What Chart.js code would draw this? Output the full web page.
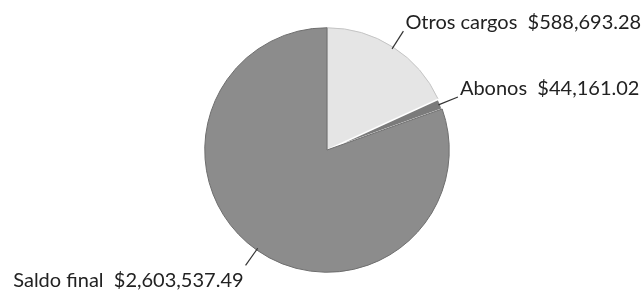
<!DOCTYPE html>
<html>
<head>
<meta charset="utf-8">
<script src="https://cdn.jsdelivr.net/npm/chart.js@4.4.0/dist/chart.umd.min.js"></script>
<style>
  html, body { margin: 0; padding: 0; background: #fff; }
  #wrap { width: 644px; height: 295px; }
</style>
</head>
<body>
<div id="wrap"><canvas id="pie"></canvas></div>
<script>
// slices, clockwise from 12 o'clock
const labels = ['Otros cargos', 'Abonos', 'Saldo final'];
const amounts = [588693.28, 44161.02, 2603537.49];
const amountText = ['$588,693.28', '$44,161.02', '$2,603,537.49'];
const colors = ['#e5e5e5', '#7b7b7b', '#8c8c8c'];

// leader lines + labels outside the slices
const outsideLabels = {
  id: 'outsideLabels',
  afterDatasetsDraw(chart) {
    const ctx = chart.ctx;
    const arcs = chart.getDatasetMeta(0).data;
    ctx.save();
    ctx.font = '20px Lato';
    ctx.fillStyle = '#222';
    ctx.strokeStyle = '#333';
    ctx.lineWidth = 1.2;
    arcs.forEach((arc, i) => {
      const mid = (arc.startAngle + arc.endAngle) / 2;
      const r = arc.outerRadius;
      const sx = arc.x + Math.cos(mid) * (r - 2);
      const sy = arc.y + Math.sin(mid) * (r - 2);
      const ex = arc.x + Math.cos(mid) * (r + 19);
      const ey = arc.y + Math.sin(mid) * (r + 19);
      ctx.beginPath();
      ctx.moveTo(sx, sy);
      ctx.lineTo(ex, ey);
      ctx.stroke();
      const txt = labels[i] + '  ' + amountText[i];
      const right = Math.cos(mid) >= 0;
      ctx.textAlign = right ? 'left' : 'right';
      if (Math.sin(mid) < 0) {
        ctx.textBaseline = 'alphabetic';
        ctx.fillText(txt, ex + (right ? 2 : -2), ey - 2);
      } else {
        ctx.textBaseline = 'top';
        ctx.fillText(txt, ex + (right ? 2 : -2), ey + 5);
      }
    });
    ctx.restore();
  }
};

new Chart(document.getElementById('pie'), {
  type: 'pie',
  data: {
    labels: labels,
    datasets: [{
      data: amounts,
      backgroundColor: colors,
      borderColor: ['#c4c4c4', '#ffffff', '#6e6e6e'],
      borderWidth: [1, 1.5, 1]
    }]
  },
  options: {
    responsive: true,
    maintainAspectRatio: false,
    animation: false,
    layout: { padding: { top: 27, bottom: 22, left: 10, right: 0 } },
    plugins: {
      legend: { display: false },
      tooltip: { enabled: false }
    }
  },
  plugins: [outsideLabels]
});
</script>
</body>
</html>
